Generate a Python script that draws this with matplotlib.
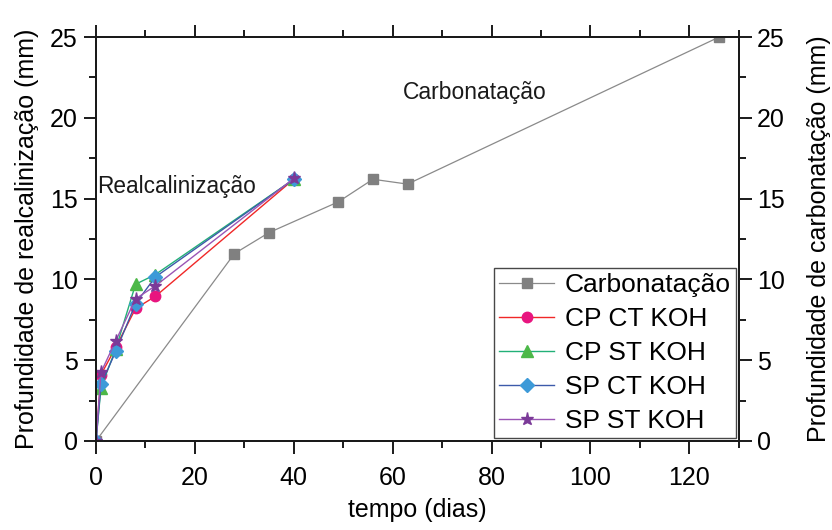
import matplotlib
matplotlib.use("Agg")
import matplotlib.pyplot as plt
from matplotlib.ticker import MultipleLocator

plt.rcParams['font.family'] = ['Liberation Sans', 'DejaVu Sans']

# Data
carb_days = [0, 28, 35, 49, 56, 63, 126]
carb_depth = [0, 11.6, 12.9, 14.8, 16.2, 15.9, 25.0]

realc_days = [0, 1, 4, 8, 12, 40]
cp_ct_koh = [0, 4.1, 5.8, 8.2, 8.95, 16.2]
cp_st_koh = [0, 3.3, 5.7, 9.7, 10.3, 16.2]
sp_ct_koh = [0, 3.5, 5.55, 8.5, 10.15, 16.2]
sp_st_koh = [0, 4.25, 6.2, 8.8, 9.6, 16.25]

labels = ["Carbonatação", "CP CT KOH", "CP ST KOH", "SP CT KOH", "SP ST KOH"]

fig = plt.figure(figsize=(8.32, 5.30), dpi=100)
ax = fig.add_axes([0.1154, 0.168, 0.888 - 0.1154, 0.930 - 0.168])

ax.plot(carb_days, carb_depth, color='#8a8a8a', lw=0.9, marker='s', ms=6.5,
        mfc='#808080', mec='#808080', label=labels[0], zorder=3)
ax.plot(realc_days, cp_ct_koh, color='#f02828', lw=1.0, marker='o', ms=7.5,
        mfc='#e8157f', mec='#e8157f', label=labels[1], zorder=4)
ax.plot(realc_days, cp_st_koh, color='#22b077', lw=1.0, marker='^', ms=8.5,
        mfc='#4cb848', mec='#4cb848', label=labels[2], zorder=5)
ax.plot(realc_days, sp_ct_koh, color='#3c5aaa', lw=1.0, marker='D', ms=7,
        mfc='#3d9ad8', mec='#3d9ad8', label=labels[3], zorder=6)
ax.plot(realc_days, sp_st_koh, color='#9a55b5', lw=1.0, marker='*', ms=9.5,
        mfc='#7b3a98', mec='#7b3a98', label=labels[4], zorder=7)

ax.set_xlim(0, 130)
ax.set_ylim(0, 25)
ax.xaxis.set_major_locator(MultipleLocator(20))
ax.xaxis.set_minor_locator(MultipleLocator(10))
ax.yaxis.set_major_locator(MultipleLocator(5))
ax.yaxis.set_minor_locator(MultipleLocator(2.5))

for s in ax.spines.values():
    s.set_linewidth(1.4)
    s.set_color('#1a1a1a')

ax.tick_params(which='both', direction='out', top=True, width=1.4, color='#1a1a1a')
ax.tick_params(which='major', length=9, labelsize=18, pad=4)
ax.tick_params(axis='x', which='major', pad=9)
ax.tick_params(which='minor', length=5)

ax.set_xlabel("tempo (dias)", fontsize=18, labelpad=6)
ax.set_ylabel("Profundidade de realcalinização (mm)", fontsize=18, labelpad=8)

ax2 = ax.twinx()
ax2.set_ylim(0, 25)
ax2.yaxis.set_major_locator(MultipleLocator(5))
ax2.yaxis.set_minor_locator(MultipleLocator(2.5))
ax2.tick_params(which='both', direction='out', width=1.4, color='#1a1a1a')
ax2.tick_params(which='major', length=9, labelsize=18, pad=4)
ax2.tick_params(which='minor', length=5)
for s in ax2.spines.values():
    s.set_linewidth(1.4)
    s.set_color('#1a1a1a')
ax2.set_ylabel("Profundidade de carbonatação (mm)", fontsize=18, labelpad=16)

ax.text(0.3, 15.75, "Realcalinização", fontsize=16.3, color='#1a1a1a', va='center', ha='left')
ax.text(62, 21.6, "Carbonatação", fontsize=16.5, color='#1a1a1a', va='center', ha='left')

leg = ax.legend(loc='lower right', fontsize=19, frameon=True, fancybox=False,
                edgecolor='#1a1a1a', borderaxespad=0.1, handlelength=2.1,
                labelspacing=0.38, borderpad=0.2, handletextpad=0.4)
leg.get_frame().set_linewidth(1.0)
leg.set_zorder(10)

fig.savefig("out.png", dpi=100)
